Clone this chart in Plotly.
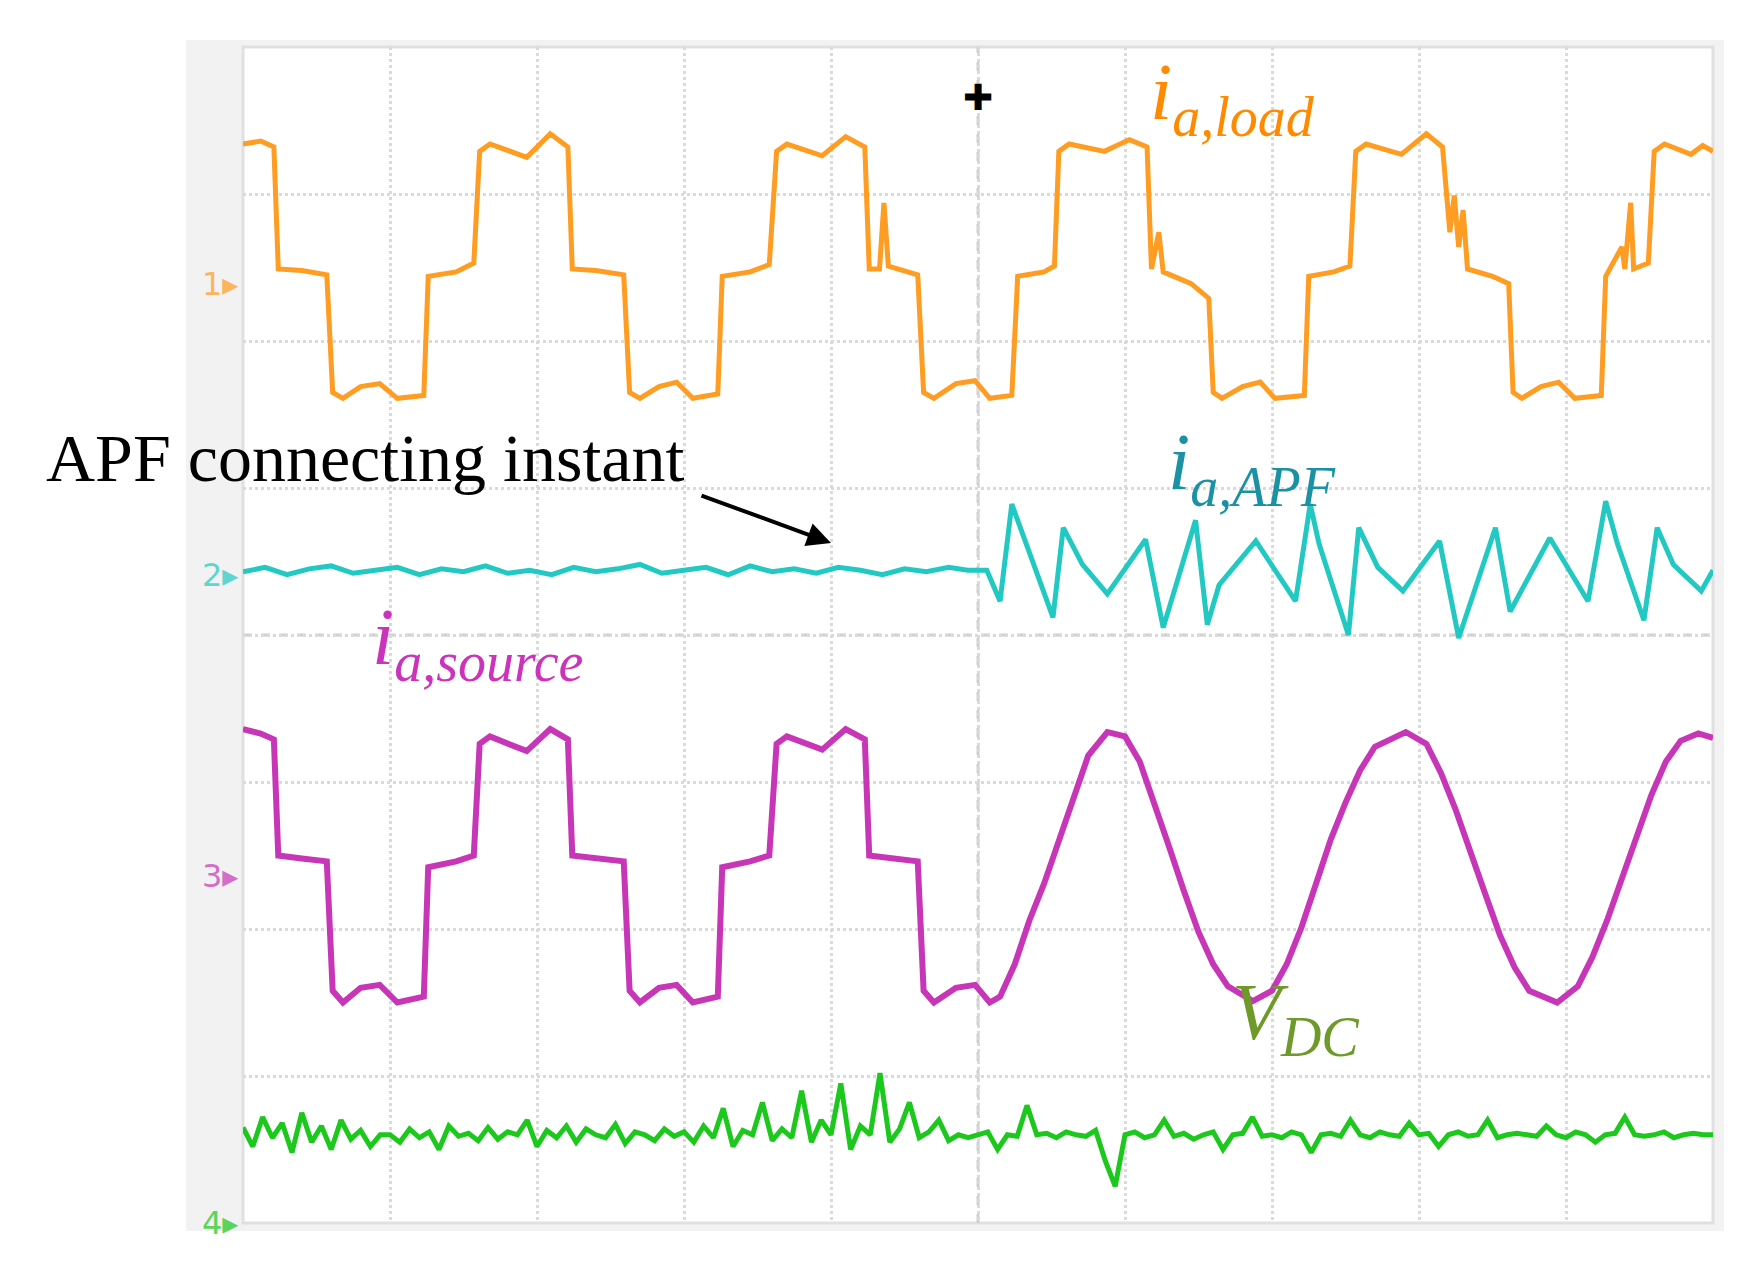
import numpy as np
import plotly.graph_objects as go

# time in ms (10 ms/div), values in divisions relative to each channel marker
load_t = [0,1.2,2.1,2.4,4.0,5.7,6.1,6.8,8.0,9.3,10.5,12.3,12.6,14.5,15.7,16.1,
          16.8,19.3,20.9,22.1,22.4,24.0,25.9,26.3,27.0,28.3,29.5,30.6,32.3,32.6,34.5,35.8,36.3,
          37.0,39.4,41.0,42.3,42.6,43.3,43.6,43.9,45.9,46.3,47.0,48.5,49.8,50.8,52.3,52.7,54.5,55.2,55.5,
          56.2,58.6,60.3,61.5,61.8,62.3,62.6,64.5,65.7,66.0,66.6,68.0,69.2,70.2,72.2,72.5,74.2,75.3,75.7,
          76.4,78.8,80.5,81.6,82.1,82.4,82.7,83.0,83.3,85.0,86.1,86.4,87.0,88.3,89.5,90.6,92.4,92.7,93.8,94.0,94.4,94.6,95.6,96.0,96.7,98.5,99.3,100]
load_v = [0.95,0.97,0.93,0.10,0.09,0.06,-0.74,-0.78,-0.70,-0.68,-0.78,-0.76,0.05,0.08,0.14,0.90,
          0.95,0.86,1.02,0.93,0.10,0.09,0.06,-0.74,-0.78,-0.70,-0.67,-0.78,-0.75,0.05,0.08,0.13,0.90,
          0.95,0.87,1.00,0.93,0.10,0.10,0.55,0.12,0.06,-0.74,-0.78,-0.68,-0.66,-0.78,-0.76,0.05,0.08,0.12,0.90,
          0.95,0.90,0.98,0.93,0.10,0.35,0.08,0.00,-0.10,-0.74,-0.78,-0.70,-0.67,-0.78,-0.76,0.05,0.08,0.12,0.90,
          0.95,0.88,1.02,0.93,0.35,0.60,0.25,0.50,0.10,0.05,0.00,-0.74,-0.78,-0.70,-0.67,-0.78,-0.76,0.05,0.25,0.10,0.55,0.10,0.14,0.90,0.95,0.88,0.94,0.90]

apf_t = [0,1.5,3,4.5,6,7.5,9,10.5,12,13.5,15,16.5,18,19.5,21,22.5,24,25.5,27,28.5,30,31.5,33,34.5,36,37.5,39,40.5,42,43.5,45,46.5,48,49.3,
         50.6,51.5,52.3,53.3,55.1,55.8,57.1,58.8,61.4,62.6,64.8,65.6,66.4,68.9,71.6,72.6,73.2,75.2,75.9,77.2,78.9,81.4,82.7,85.2,86.2,88.9,91.5,92.7,93.5,95.3,96.2,97.3,99.2,100]
apf_v = [0.02,0.05,0.0,0.04,0.06,0.01,0.03,0.05,0.0,0.04,0.02,0.06,0.01,0.03,0.0,0.05,0.02,0.04,0.07,0.01,0.03,0.05,0.0,0.06,0.02,0.04,0.01,0.05,0.03,0.0,0.04,0.02,0.05,0.03,
         0.03,-0.18,0.48,0.21,-0.29,0.32,0.07,-0.13,0.24,-0.36,0.37,-0.34,-0.07,0.23,-0.18,0.48,0.21,-0.41,0.32,0.05,-0.11,0.23,-0.43,0.32,-0.25,0.25,-0.18,0.50,0.21,-0.31,0.32,0.07,-0.11,0.03]

src_t = [0,1.2,2.1,2.4,4.0,5.7,6.1,6.8,8.0,9.3,10.5,12.3,12.6,14.5,15.7,16.1,
         16.8,19.3,20.9,22.1,22.4,24.0,25.9,26.3,27.0,28.3,29.5,30.6,32.3,32.6,34.5,35.8,36.3,
         37.0,39.4,41.0,42.3,42.6,45.9,46.3,47.0,48.5,49.8,50.8,
         51.5,52.5,53.5,54.5,55.5,56.5,57.5,58.8,60.0,61.0,62.0,63.0,64.0,65.0,66.0,67.0,68.7,70.0,71.0,72.0,73.0,74.0,75.0,76.0,77.0,79.1,
         80.5,81.5,82.5,83.5,84.5,85.5,86.5,87.5,89.4,90.8,91.8,92.8,93.8,94.8,95.8,96.8,97.8,99.0,100]
src_v = [1.0,0.97,0.93,0.14,0.12,0.10,-0.78,-0.86,-0.76,-0.74,-0.86,-0.82,0.06,0.10,0.14,0.90,
         0.95,0.85,1.00,0.93,0.14,0.12,0.10,-0.78,-0.86,-0.76,-0.74,-0.86,-0.82,0.06,0.10,0.14,0.90,
         0.95,0.86,1.00,0.93,0.14,0.10,-0.78,-0.86,-0.76,-0.74,-0.86,
         -0.82,-0.60,-0.30,-0.05,0.25,0.55,0.82,0.98,0.95,0.78,0.50,0.20,-0.10,-0.38,-0.60,-0.75,-0.85,-0.78,-0.60,-0.35,-0.05,0.25,0.50,0.72,0.88,0.98,
         0.90,0.70,0.45,0.15,-0.12,-0.40,-0.62,-0.78,-0.86,-0.75,-0.55,-0.30,-0.02,0.28,0.55,0.78,0.92,0.97,0.94]

vdc_v = [0.65,0.52,0.72,0.58,0.68,0.48,0.75,0.55,0.66,0.5,0.7,0.57,0.63,0.52,0.6,
         0.6,0.55,0.64,0.58,0.62,0.5,0.66,0.59,0.61,0.56,0.65,0.57,0.62,0.6,0.7,0.52,0.63,0.58,0.66,0.55,0.64,0.6,0.58,0.67,0.54,0.62,0.6,0.56,0.64,0.59,
         0.62,0.55,0.66,0.58,0.78,0.52,0.63,0.6,0.82,0.56,0.64,0.58,0.9,0.55,0.7,0.6,0.95,0.5,0.66,0.6,1.02,0.55,0.64,0.82,0.58,0.62,0.7,0.56,0.6,0.58,
         0.6,0.62,0.5,0.6,0.59,0.8,0.6,0.61,0.58,0.62,0.6,0.59,0.63,0.42,0.25,0.6,0.62,0.58,0.6,0.7,0.59,0.61,0.57,0.6,0.62,0.5,0.6,0.61,0.72,0.59,
         0.6,0.58,0.62,0.6,0.48,0.6,0.61,0.59,0.7,0.6,0.58,0.62,0.6,0.59,0.68,0.6,0.61,0.52,0.6,0.62,0.59,0.6,0.7,0.58,0.6,0.61,0.6,0.59,0.66,0.6,
         0.58,0.62,0.6,0.55,0.6,0.61,0.72,0.6,0.59,0.6,0.62,0.58,0.6,0.61,0.6,0.6]
vdc_t = np.linspace(0, 100, len(vdc_v))

ch_offsets = [6.39, 4.41, 2.36, 0.0]
ch_colors = ["#FF9C22", "#22C9C2", "#C636B6", "#1CC81C"]
ch_labels = ["1", "2", "3", "4"]

fig = go.Figure()
series = [(load_t, load_v), (apf_t, apf_v), (src_t, src_v), (vdc_t, vdc_v)]
widths = [5, 5, 6, 5]
for (t, v), off, c, w in zip(series, ch_offsets, ch_colors, widths):
    fig.add_trace(go.Scatter(x=t, y=[off + a for a in v], mode="lines",
                             line=dict(color=c, width=w), hoverinfo="skip", showlegend=False))

W, H = 1758, 1266
L, R, T, B = 235, 53, 39, 51
pw, ph = W - L - R, H - T - B
def px(X): return (X - L) / pw
def py(Y): return 1 - (Y - T) / ph

shapes = [
    dict(type="rect", xref="paper", yref="paper", x0=px(178), x1=px(1716), y0=py(1223), y1=py(32),
         fillcolor="#f2f2f2", line=dict(width=0), layer="below"),
    dict(type="rect", xref="paper", yref="paper", x0=0, x1=1, y0=0, y1=1,
         fillcolor="white", line=dict(color="#e0e0e0", width=3), layer="below"),
    dict(type="line", xref="x", yref="paper", x0=50, x1=50, y0=0, y1=1,
         line=dict(color="#cfcfcf", width=3, dash="dash"), layer="below"),
    dict(type="line", xref="paper", yref="y", x0=0, x1=1, y0=4, y1=4,
         line=dict(color="#cfcfcf", width=3, dash="dash"), layer="below"),
]

ann = []
for off, c, lab in zip(ch_offsets, ch_colors, ch_labels):
    ann.append(dict(x=px(212), y=off, xref="paper", yref="y", text=lab + "▸", showarrow=False,
                    font=dict(family="DejaVu Sans", size=32, color=c), xanchor="center", opacity=0.7))
ann.append(dict(x=50, y=py(62), xref="x", yref="paper", text="✚", showarrow=False,
                font=dict(size=36, color="black")))
serif = "Liberation Serif"
ann.append(dict(x=px(36), y=py(450), xref="paper", yref="paper", text="APF connecting instant",
                showarrow=False, xanchor="left", font=dict(family=serif, size=68, color="black")))
ann.append(dict(x=px(823), y=py(535), ax=px(692), ay=py(487), xref="x domain", yref="y domain",
                axref="x domain", ayref="y domain", text="", showarrow=True, arrowhead=2, arrowsize=1.2,
                arrowwidth=4, arrowcolor="black"))
def lab(x, y, main, sub, color):
    ann.append(dict(x=px(x), y=py(y), xref="paper", yref="paper", xanchor="left",
                    text=f"<i>{main}</i><sub><i>{sub}</i></sub>", showarrow=False,
                    font=dict(family=serif, size=80, color=color)))
lab(1140, 38, "i", "a,load", "#FF8A00")
lab(1158, 460, "i", "a,APF", "#1A92A3")
lab(362, 635, "i", "a,source", "#CC33BB")
lab(1222, 1062, "V", "DC", "#6E9A2A")

fig.update_layout(width=W, height=H, margin=dict(l=L, r=R, t=T, b=B),
                  paper_bgcolor="white", plot_bgcolor="white", shapes=shapes, annotations=ann,
                  xaxis=dict(range=[0, 100], dtick=10, showgrid=True, gridcolor="#dadada", griddash="dot",
                             gridwidth=3, showticklabels=False, zeroline=False, ticks=""),
                  yaxis=dict(range=[0, 8], dtick=1, showgrid=True, gridcolor="#dadada", griddash="dot",
                             gridwidth=3, showticklabels=False, zeroline=False, ticks=""))
fig.write_html("out.html")
